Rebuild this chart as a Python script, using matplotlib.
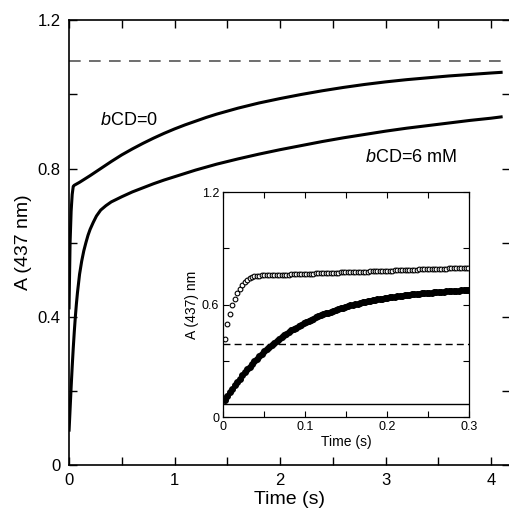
import numpy as np
import matplotlib
matplotlib.use('Agg')
import matplotlib.pyplot as plt
from matplotlib.ticker import MultipleLocator

plt.rcParams['font.family'] = ['Liberation Sans', 'DejaVu Sans']
plt.rcParams['mathtext.fontset'] = 'custom'
plt.rcParams['mathtext.it'] = 'Liberation Sans:italic'

# main panel: absorbance traces (time in s)
t_cd0 = [0.0, 0.01, 0.02, 0.03, 0.04, 0.05, 0.1, 0.15, 0.2, 0.3, 0.4, 0.5, 0.6, 0.7,
         0.8, 0.9, 1.0, 1.1, 1.2, 1.3, 1.4, 1.5, 1.6, 1.7, 1.8, 1.9, 2.0, 2.2, 2.4,
         2.6, 2.8, 3.0, 3.2, 3.4, 3.6, 3.8, 4.0, 4.11]
a_cd0 = [0.42, 0.60, 0.685, 0.73, 0.752, 0.755, 0.763, 0.772, 0.781, 0.80, 0.819,
         0.837, 0.853, 0.868, 0.882, 0.895, 0.907, 0.918, 0.928, 0.938, 0.947, 0.955,
         0.963, 0.970, 0.977, 0.983, 0.989, 1.0, 1.01, 1.019, 1.027, 1.034, 1.04,
         1.045, 1.05, 1.054, 1.058, 1.06]

t_cd6 = [0.0, 0.01, 0.02, 0.03, 0.04, 0.05, 0.06, 0.07, 0.08, 0.1, 0.12, 0.14, 0.16,
         0.18, 0.2, 0.23, 0.26, 0.3, 0.35, 0.4, 0.5, 0.6, 0.7, 0.8, 0.9, 1.0, 1.2,
         1.4, 1.6, 1.8, 2.0, 2.2, 2.4, 2.6, 2.8, 3.0, 3.2, 3.4, 3.6, 3.8, 4.0, 4.11]
a_cd6 = [0.09, 0.15, 0.21, 0.265, 0.315, 0.36, 0.40, 0.435, 0.465, 0.515, 0.55,
         0.578, 0.60, 0.62, 0.636, 0.655, 0.672, 0.688, 0.70, 0.71, 0.724, 0.737,
         0.748, 0.759, 0.769, 0.778, 0.796, 0.812, 0.826, 0.839, 0.851, 0.862,
         0.873, 0.883, 0.892, 0.901, 0.909, 0.916, 0.923, 0.93, 0.936, 0.94]
a_limit = 1.09

main_xticks = [0, 1, 2, 3, 4]
main_yticks = [0, 0.4, 0.8, 1.2]
main_ylabels = ['0', '0.4', '0.8', '1.2']

# inset: first 0.3 s, sampled every 3 ms
t_ins = np.arange(0.002, 0.3, 0.003)
a_ins_cd0 = [0.414, 0.494, 0.550, 0.595, 0.630, 0.660, 0.685, 0.705, 0.720, 0.732,
             0.741, 0.747, 0.751, 0.753, 0.754, 0.755, 0.755, 0.756, 0.756, 0.757,
             0.757, 0.758, 0.758, 0.759, 0.759, 0.760, 0.760, 0.761, 0.761, 0.762,
             0.762, 0.763, 0.763, 0.764, 0.764, 0.765, 0.765, 0.766, 0.766, 0.767,
             0.767, 0.768, 0.768, 0.769, 0.769, 0.770, 0.770, 0.771, 0.771, 0.772,
             0.772, 0.773, 0.773, 0.774, 0.774, 0.775, 0.775, 0.776, 0.776, 0.777,
             0.777, 0.778, 0.778, 0.779, 0.779, 0.780, 0.780, 0.781, 0.781, 0.782,
             0.782, 0.783, 0.783, 0.784, 0.784, 0.785, 0.785, 0.786, 0.786, 0.787,
             0.787, 0.788, 0.788, 0.789, 0.789, 0.790, 0.790, 0.791, 0.791, 0.792,
             0.792, 0.793, 0.793, 0.794, 0.794, 0.795, 0.795, 0.796, 0.796, 0.797]
a_ins_cd6 = [0.089, 0.110, 0.131, 0.150, 0.169, 0.187, 0.205, 0.222, 0.238, 0.254,
             0.269, 0.284, 0.299, 0.312, 0.325, 0.338, 0.351, 0.363, 0.374, 0.385,
             0.396, 0.406, 0.416, 0.426, 0.435, 0.444, 0.453, 0.462, 0.470, 0.477,
             0.485, 0.492, 0.499, 0.506, 0.513, 0.519, 0.525, 0.531, 0.537, 0.542,
             0.547, 0.553, 0.557, 0.562, 0.567, 0.571, 0.576, 0.580, 0.584, 0.588,
             0.591, 0.595, 0.598, 0.602, 0.605, 0.608, 0.611, 0.614, 0.617, 0.619,
             0.622, 0.625, 0.627, 0.629, 0.632, 0.634, 0.636, 0.638, 0.640, 0.642,
             0.644, 0.646, 0.647, 0.649, 0.651, 0.652, 0.654, 0.655, 0.656, 0.658,
             0.659, 0.660, 0.662, 0.663, 0.664, 0.665, 0.666, 0.667, 0.668, 0.669,
             0.670, 0.671, 0.671, 0.672, 0.673, 0.674, 0.675, 0.675, 0.676, 0.677]
a_ins_dash = 0.39
a_ins_base = 0.07

ins_xticks = [0, 0.1, 0.2, 0.3]
ins_xlabels = ['0', '0.1', '0.2', '0.3']
ins_yticks = [0, 0.6, 1.2]
ins_ylabels = ['0', '0.6', '1.2']

fig = plt.figure(figsize=(5.09, 5.20), dpi=100)
# right spine sits just past the image edge, as in the original
ax = fig.add_axes([0.1356, 0.1058, 0.8664, 0.855])

ax.plot(t_cd0, a_cd0, color='black', lw=2.2, solid_capstyle='butt')
ax.plot(t_cd6, a_cd6, color='black', lw=2.2, solid_capstyle='butt')
ax.axhline(a_limit, color='#555555', lw=1.2, dashes=(7, 5))

ax.set_xlim(0, 4.18)
ax.set_ylim(0, 1.2)
ax.set_xticks(main_xticks)
ax.set_yticks(main_yticks, labels=main_ylabels)
ax.xaxis.set_minor_locator(MultipleLocator(0.5))
ax.yaxis.set_minor_locator(MultipleLocator(0.2))
ax.tick_params(which='both', direction='in', top=True, right=True, length=6, width=1,
               labelsize=12, pad=6)
for s in ax.spines.values():
    s.set_linewidth(1.2)
ax.set_xlabel('Time (s)', fontsize=14, labelpad=2)
ax.set_ylabel('A (437 nm)', fontsize=14, labelpad=4)

ax.text(0.29, 0.93, r'$\it{b}$CD=0', fontsize=13, va='center', ha='left')
ax.text(2.81, 0.83, r'$\it{b}$CD=6 mM', fontsize=13, va='center', ha='left')

# inset
ins = fig.add_axes([0.4387, 0.198, 0.4833, 0.4327])
ins.plot(t_ins, a_ins_cd0, 'o', mfc='white', mec='black', ms=3.4, mew=0.8)
ins.plot(t_ins, a_ins_cd6, 'o', mfc='black', mec='black', ms=4.2, mew=0.8)
ins.axhline(a_ins_dash, color='black', lw=1, dashes=(5, 3))
ins.axhline(a_ins_base, color='black', lw=1)
ins.set_xlim(0, 0.3)
ins.set_ylim(0, 1.2)
ins.set_xticks(ins_xticks, labels=ins_xlabels)
ins.set_yticks(ins_yticks, labels=ins_ylabels)
ins.xaxis.set_minor_locator(MultipleLocator(0.05))
ins.yaxis.set_minor_locator(MultipleLocator(0.3))
ins.tick_params(which='both', direction='in', top=True, right=True, length=4, width=0.8,
                labelsize=9, pad=3)
for s in ins.spines.values():
    s.set_linewidth(0.9)
ins.set_xlabel('Time (s)', fontsize=10, labelpad=1)
ins.set_ylabel('A (437) nm', fontsize=10, labelpad=2)

fig.savefig('out.png', dpi=100)
